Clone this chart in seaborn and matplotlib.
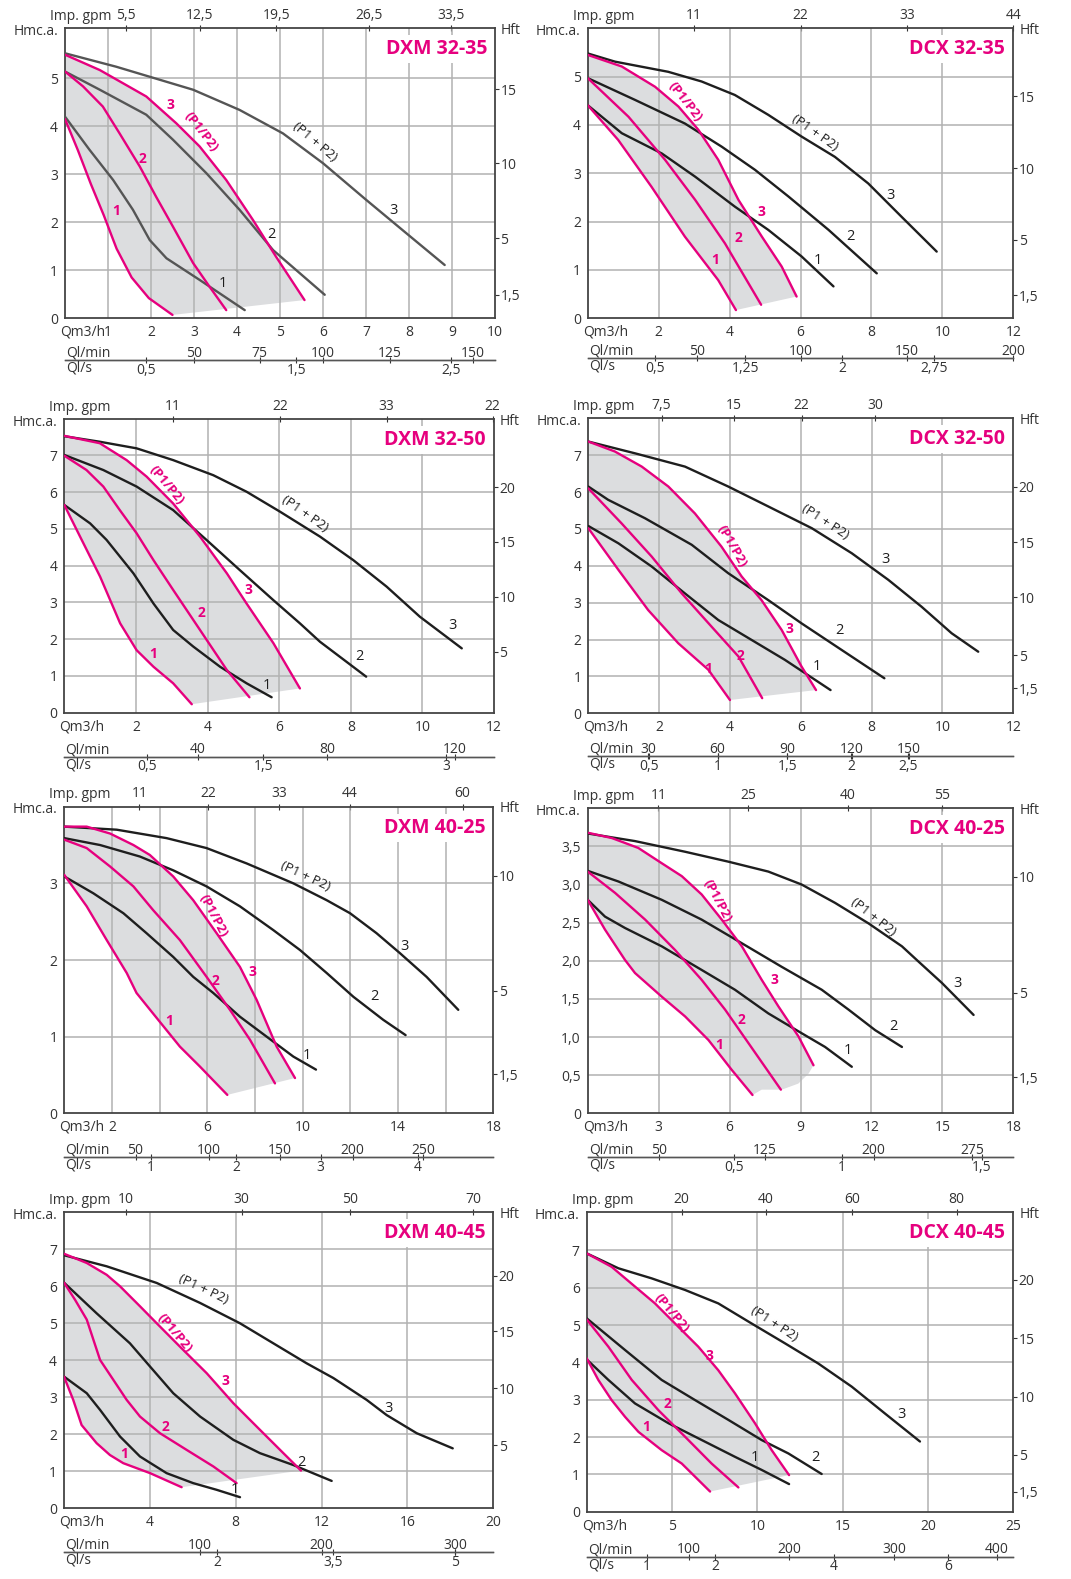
import matplotlib
matplotlib.use('Agg')
import matplotlib.pyplot as plt
import seaborn as sns

PINK = '#e6007e'
INK = '#1e1e1e'
TXT = '#333333'
GRID = '#b2b2b2'
SHADE = '#dcdddf'

# ---------- DXM 32-35 ----------
dxm3235_pink1 = [(0, 4.15), (0.3, 3.5), (0.6, 2.8), (0.9, 2.15), (1.2, 1.45), (1.55, 0.85), (1.95, 0.42), (2.5, 0.07)]
dxm3235_pink2 = [(0, 5.14), (0.42, 4.83), (0.88, 4.41), (1.27, 3.85), (1.74, 3.16), (2.12, 2.53), (2.51, 1.91), (2.98, 1.15), (3.36, 0.66), (3.75, 0.17)]
dxm3235_pink3 = [(0, 5.49), (0.81, 5.17), (1.89, 4.62), (2.59, 4.06), (3.13, 3.58), (3.75, 2.88), (4.37, 2.05), (4.91, 1.28), (5.57, 0.38)]
dxm3235_blk1 = [(0, 4.2), (0.57, 3.51), (1.12, 2.88), (1.58, 2.26), (1.97, 1.63), (2.36, 1.25), (3.13, 0.8), (4.18, 0.17)]
dxm3235_blk2 = [(0, 5.14), (0.81, 4.76), (1.89, 4.24), (2.51, 3.72), (3.29, 3.02), (4.06, 2.26), (4.84, 1.42), (6.04, 0.49)]
dxm3235_blk3 = [(0, 5.52), (1.19, 5.24), (2.98, 4.76), (4.06, 4.34), (5.07, 3.85), (6.0, 3.23), (7.0, 2.47), (7.94, 1.77), (8.83, 1.11)]
dxm3235_q = [1, 2, 3, 4, 5, 6, 7, 8, 9, 10]
dxm3235_h = [0, 1, 2, 3, 4, 5]
dxm3235_gpm = [(1.41, '5,5'), (3.13, '12,5'), (4.91, '19,5'), (7.08, '26,5'), (8.98, '33,5')]
dxm3235_lmin = [(2.99, '50'), (4.53, '75'), (6.0, '100'), (7.55, '125'), (9.49, '150')]
dxm3235_ls = [(1.89, '0,5'), (5.38, '1,5'), (8.98, '2,5')]
dxm3235_hft = [(0.49, '1,5'), (1.67, '5'), (3.23, '10'), (4.77, '15')]

# ---------- DCX 32-35 ----------
dcx3235_pink1 = [(0, 4.41), (0.86, 3.69), (1.8, 2.72), (2.74, 1.69), (3.68, 0.79), (4.18, 0.17)]
dcx3235_pink2 = [(0, 4.97), (1.15, 4.17), (2.18, 3.28), (3.03, 2.45), (3.87, 1.55), (4.89, 0.28)]
dcx3235_pink3 = [(0, 5.45), (0.96, 5.21), (1.9, 4.79), (2.56, 4.38), (3.12, 3.9), (3.68, 3.28), (4.25, 2.45), (4.91, 1.69), (5.47, 1.07), (5.89, 0.45)]
dcx3235_blk1 = [(0, 4.41), (0.96, 3.83), (2.09, 3.41), (3.03, 2.93), (4.15, 2.31), (5.09, 1.83), (6.03, 1.28), (6.93, 0.66)]
dcx3235_blk2 = [(0, 4.97), (1.33, 4.52), (2.74, 4.03), (3.78, 3.55), (4.72, 3.07), (5.66, 2.52), (6.79, 1.83), (8.15, 0.93)]
dcx3235_blk3 = [(0, 5.48), (0.77, 5.31), (2.27, 5.1), (3.21, 4.9), (4.15, 4.62), (5.09, 4.21), (6.03, 3.76), (6.97, 3.34), (7.91, 2.79), (8.85, 2.1), (9.84, 1.38)]
dcx3235_q = [2, 4, 6, 8, 10, 12]
dcx3235_h = [0, 1, 2, 3, 4, 5]
dcx3235_gpm = [(3.0, '11'), (6.0, '22'), (9.01, '33'), (12.0, '44')]
dcx3235_lmin = [(3.07, '50'), (6.0, '100'), (9.0, '150'), (12.0, '200')]
dcx3235_ls = [(1.9, '0,5'), (4.44, '1,25'), (7.18, '2'), (9.76, '2,75')]
dcx3235_hft = [(0.48, '1,5'), (1.63, '5'), (3.1, '10'), (4.59, '15')]

# ---------- DXM 32-50 ----------
dxm3250_pink1 = [(0, 5.65), (0.44, 4.79), (1.0, 3.7), (1.56, 2.43), (2.02, 1.7), (2.49, 1.25), (3.04, 0.8), (3.56, 0.23)]
dxm3250_pink2 = [(0, 6.99), (0.62, 6.6), (1.09, 6.15), (1.55, 5.51), (2.02, 4.88), (2.49, 4.15), (3.04, 3.34), (3.79, 2.25), (4.54, 1.16), (5.17, 0.42)]
dxm3250_pink3 = [(0, 7.53), (0.99, 7.33), (1.74, 6.87), (2.3, 6.42), (3.04, 5.69), (3.79, 4.79), (4.54, 3.79), (5.09, 2.97), (5.84, 1.89), (6.58, 0.66)]
dxm3250_blk1 = [(0, 5.65), (0.72, 5.15), (1.18, 4.7), (1.93, 3.79), (2.49, 2.97), (3.04, 2.25), (3.6, 1.8), (4.35, 1.25), (5.09, 0.8), (5.79, 0.42)]
dxm3250_blk2 = [(0, 7.01), (1.09, 6.6), (2.02, 6.15), (3.04, 5.51), (3.97, 4.7), (4.9, 3.88), (5.84, 3.06), (6.58, 2.43), (7.14, 1.93), (8.43, 0.98)]
dxm3250_blk3 = [(0, 7.52), (0.99, 7.37), (2.02, 7.19), (3.04, 6.87), (4.16, 6.46), (5.09, 6.01), (6.02, 5.47), (7.14, 4.79), (8.07, 4.15), (9.0, 3.43), (9.93, 2.61), (11.1, 1.75)]
dxm3250_q = [2, 4, 6, 8, 10, 12]
dxm3250_h = [0, 1, 2, 3, 4, 5, 6, 7]
dxm3250_gpm = [(3.04, '11'), (6.02, '22'), (9.0, '33'), (11.96, '22')]
dxm3250_lmin = [(3.72, '40'), (7.33, '80'), (10.91, '120')]
dxm3250_ls = [(2.3, '0,5'), (5.56, '1,5'), (10.66, '3')]
dxm3250_hft = [(1.66, '5'), (3.16, '10'), (4.65, '15'), (6.13, '20')]

# ---------- DCX 32-50 ----------
dcx3250_pink1 = [(0, 5.02), (0.85, 3.89), (1.69, 2.8), (2.54, 1.9), (3.39, 1.18), (4.0, 0.36)]
dcx3250_pink2 = [(0, 6.1), (0.94, 5.15), (1.79, 4.25), (2.64, 3.25), (3.48, 2.35), (4.24, 1.54), (4.91, 0.41)]
dcx3250_pink3 = [(0, 7.37), (0.75, 7.1), (1.51, 6.69), (2.26, 6.15), (3.01, 5.42), (3.76, 4.52), (4.33, 3.71), (4.89, 3.07), (5.46, 2.26), (6.02, 1.27), (6.43, 0.63)]
dcx3250_blk1 = [(0, 5.08), (0.85, 4.61), (1.79, 3.98), (2.73, 3.25), (3.67, 2.53), (4.61, 1.99), (5.55, 1.45), (6.84, 0.63)]
dcx3250_blk2 = [(0, 6.15), (0.56, 5.79), (1.6, 5.29), (2.92, 4.57), (3.95, 3.8), (5.08, 3.07), (6.02, 2.44), (7.15, 1.72), (8.36, 0.95)]
dcx3250_blk3 = [(0, 7.37), (1.32, 7.05), (2.73, 6.69), (3.95, 6.15), (5.08, 5.61), (6.31, 5.02), (7.44, 4.34), (8.47, 3.62), (9.41, 2.89), (10.26, 2.17), (11.01, 1.67)]
dcx3250_q = [2, 4, 6, 8, 10, 12]
dcx3250_h = [0, 1, 2, 3, 4, 5, 6, 7]
dcx3250_gpm = [(2.07, '7,5'), (4.12, '15'), (6.02, '22'), (8.09, '30')]
dcx3250_lmin = [(1.69, '30'), (3.65, '60'), (5.62, '90'), (7.44, '120'), (9.05, '150')]
dcx3250_ls = [(1.72, '0,5'), (3.65, '1'), (5.62, '1,5'), (7.42, '2'), (9.04, '2,5')]
dcx3250_hft = [(0.68, '1,5'), (1.58, '5'), (3.15, '10'), (4.64, '15'), (6.15, '20')]

# ---------- DXM 40-25 ----------
dxm4025_pink1 = [(0, 3.11), (0.94, 2.7), (1.78, 2.26), (2.62, 1.83), (3.03, 1.57), (3.73, 1.3), (4.85, 0.87), (5.69, 0.61), (6.84, 0.24)]
dxm4025_pink2 = [(0, 3.57), (0.94, 3.46), (1.92, 3.22), (2.9, 2.96), (3.73, 2.65), (4.85, 2.26), (5.97, 1.78), (6.95, 1.35), (7.79, 0.96), (8.84, 0.39)]
dxm4025_pink3 = [(0, 3.74), (0.94, 3.74), (1.92, 3.65), (2.9, 3.5), (3.59, 3.37), (4.57, 3.09), (5.41, 2.78), (6.39, 2.35), (7.37, 1.91), (8.07, 1.48), (8.91, 0.87), (9.68, 0.46)]
dxm4025_blk1 = [(0, 3.09), (1.22, 2.87), (2.48, 2.61), (3.45, 2.35), (4.57, 2.04), (5.41, 1.78), (6.25, 1.57), (7.37, 1.26), (8.49, 1.0), (9.61, 0.74), (10.56, 0.57)]
dxm4025_blk2 = [(0, 3.59), (1.5, 3.5), (3.17, 3.35), (4.57, 3.17), (5.97, 2.96), (7.37, 2.7), (8.77, 2.39), (9.89, 2.13), (11.01, 1.83), (12.13, 1.52), (13.38, 1.22), (14.32, 1.02)]
dxm4025_blk3 = [(0, 3.74), (2.2, 3.7), (4.29, 3.59), (5.97, 3.46), (7.65, 3.26), (9.61, 3.0), (11.01, 2.78), (11.99, 2.61), (13.1, 2.35), (14.08, 2.09), (15.2, 1.78), (16.53, 1.35)]
dxm4025_q = [2, 6, 10, 14, 18]
dxm4025_h = [0, 1, 2, 3]
dxm4025_gpm = [(3.15, '11'), (6.04, '22'), (9.0, '33'), (11.99, '44'), (16.71, '60')]
dxm4025_lmin = [(2.99, '50'), (6.07, '100'), (9.05, '150'), (12.1, '200'), (15.06, '250')]
dxm4025_ls = [(3.62, '1'), (7.2, '2'), (10.76, '3'), (14.83, '4')]
dxm4025_hft = [(0.51, '1,5'), (1.6, '5'), (3.1, '10')]

# ---------- DCX 40-25 ----------
dcx4025_pink1 = [(0, 2.8), (0.73, 2.41), (1.58, 2.01), (2.0, 1.84), (3.13, 1.53), (4.12, 1.27), (5.11, 0.96), (6.09, 0.57), (6.97, 0.24)]
dcx4025_pink2 = [(0, 3.17), (1.16, 2.89), (2.43, 2.54), (3.7, 2.14), (4.82, 1.75), (5.81, 1.36), (6.8, 0.92), (8.17, 0.31)]
dcx4025_pink3 = [(0, 3.68), (1.02, 3.61), (2.14, 3.48), (3.13, 3.28), (3.98, 3.11), (4.82, 2.87), (5.67, 2.54), (6.52, 2.19), (7.36, 1.75), (8.07, 1.4), (8.91, 1.01), (9.55, 0.63)]
dcx4025_blk1 = [(0, 2.8), (0.73, 2.58), (1.58, 2.43), (3.13, 2.19), (4.82, 1.88), (6.23, 1.62), (7.64, 1.31), (9.05, 1.05), (10.04, 0.87), (11.17, 0.61)]
dcx4025_blk2 = [(0, 3.18), (1.3, 3.04), (3.13, 2.8), (4.82, 2.54), (6.52, 2.23), (8.21, 1.92), (9.9, 1.62), (11.03, 1.36), (12.16, 1.09), (13.29, 0.87)]
dcx4025_blk3 = [(0, 3.67), (2.0, 3.57), (4.12, 3.43), (5.95, 3.3), (7.64, 3.17), (9.05, 3.0), (10.46, 2.76), (11.88, 2.49), (13.29, 2.19), (13.99, 1.99), (14.98, 1.71), (16.32, 1.29)]
dcx4025_edge = [(9.34, 0.52), (8.91, 0.39), (8.21, 0.31), (7.36, 0.31)]
dcx4025_q = [3, 6, 9, 12, 15, 18]
dcx4025_h = [0, 0.5, 1.0, 1.5, 2.0, 2.5, 3.0, 3.5]
dcx4025_gpm = [(2.99, '11'), (6.8, '25'), (10.99, '40'), (15.0, '55')]
dcx4025_lmin = [(3.02, '50'), (7.5, '125'), (12.09, '200'), (16.25, '275')]
dcx4025_ls = [(6.19, '0,5'), (10.75, '1'), (16.67, '1,5')]
dcx4025_hft = [(0.47, '1,5'), (1.58, '5'), (3.1, '10')]

# ---------- DXM 40-45 ----------
dxm4045_pink1 = [(0, 3.56), (0.43, 2.93), (0.82, 2.25), (1.52, 1.76), (2.14, 1.44), (2.76, 1.22), (4.01, 0.95), (5.48, 0.57)]
dxm4045_pink2 = [(0, 6.1), (0.51, 5.64), (1.06, 5.1), (1.68, 4.01), (2.3, 3.47), (2.92, 2.93), (3.54, 2.48), (4.47, 2.03), (5.71, 1.58), (6.96, 1.13), (8.04, 0.68)]
dxm4045_pink3 = [(0, 6.88), (1.06, 6.63), (1.99, 6.31), (2.61, 6.0), (3.54, 5.46), (4.32, 5.0), (5.4, 4.37), (6.65, 3.65), (7.89, 2.84), (9.13, 2.12), (10.22, 1.49), (11.04, 1.02)]
dxm4045_blk1 = [(0, 3.56), (1.06, 3.11), (1.68, 2.66), (2.61, 1.94), (3.54, 1.4), (4.78, 0.95), (6.02, 0.68), (7.11, 0.5), (8.2, 0.3)]
dxm4045_blk2 = [(0, 6.1), (1.52, 5.27), (3.07, 4.46), (4.01, 3.83), (5.09, 3.11), (6.34, 2.48), (7.89, 1.85), (9.13, 1.49), (10.68, 1.17), (12.47, 0.74)]
dxm4045_blk3 = [(0, 6.84), (1.99, 6.54), (4.32, 6.09), (6.34, 5.55), (8.2, 5.0), (9.75, 4.46), (11.3, 3.92), (12.55, 3.52), (14.1, 2.93), (15.03, 2.52), (16.43, 2.03), (18.11, 1.62)]
dxm4045_q = [4, 8, 12, 16, 20]
dxm4045_h = [0, 1, 2, 3, 4, 5, 6, 7]
dxm4045_gpm = [(2.89, '10'), (8.28, '30'), (13.32, '50'), (19.07, '70')]
dxm4045_lmin = [(6.34, '100'), (12.0, '200'), (18.21, '300')]
dxm4045_ls = [(7.14, '2'), (12.52, '3,5'), (18.21, '5')]
dxm4045_hft = [(1.71, '5'), (3.25, '10'), (4.78, '15'), (6.29, '20')]

# ---------- DCX 40-45 ----------
dcx4045_pink1 = [(0, 4.11), (0.68, 3.53), (1.46, 2.99), (2.25, 2.54), (3.03, 2.14), (4.39, 1.65), (5.57, 1.29), (7.23, 0.54)]
dcx4045_pink2 = [(0, 5.15), (1.27, 4.42), (2.64, 3.53), (4.2, 2.72), (5.76, 2.01), (7.32, 1.29), (8.89, 0.65)]
dcx4045_pink3 = [(0, 6.92), (1.46, 6.56), (2.83, 6.03), (4.0, 5.58), (5.18, 5.04), (6.54, 4.42), (7.71, 3.79), (8.69, 3.17), (9.86, 2.37), (10.84, 1.65), (11.86, 0.98)]
dcx4045_blk1 = [(0, 4.08), (1.27, 3.53), (2.83, 2.9), (4.79, 2.37), (6.74, 1.92), (8.69, 1.47), (10.25, 1.12), (11.86, 0.74)]
dcx4045_blk2 = [(0, 5.18), (2.25, 4.33), (4.39, 3.53), (6.35, 2.99), (8.3, 2.46), (10.25, 1.92), (11.82, 1.56), (13.77, 1.01)]
dcx4045_blk3 = [(0, 6.92), (1.86, 6.52), (3.81, 6.25), (5.76, 5.94), (7.71, 5.58), (9.67, 5.04), (11.62, 4.51), (13.57, 3.97), (15.53, 3.35), (17.48, 2.63), (19.53, 1.88)]
dcx4045_q = [5, 10, 15, 20, 25]
dcx4045_h = [0, 1, 2, 3, 4, 5, 6, 7]
dcx4045_gpm = [(5.57, '20'), (10.51, '40'), (15.53, '60'), (21.68, '80')]
dcx4045_lmin = [(6.0, '100'), (11.86, '200'), (18.03, '300'), (24.02, '400')]
dcx4045_ls = [(3.52, '1'), (7.52, '2'), (14.49, '4'), (21.19, '6')]
dcx4045_hft = [(0.54, '1,5'), (1.52, '5'), (3.08, '10'), (4.64, '15'), (6.21, '20')]


def hlabel(v):
    return str(v).replace('.', ',') if isinstance(v, float) else str(v)


panels = [
    dict(name='DXM 32-35', frame=(65, 28.3, 495, 318.3), xmax=10, ymax=6.04,
         pink=[dxm3235_pink1, dxm3235_pink2, dxm3235_pink3],
         blk=[dxm3235_blk1, dxm3235_blk2, dxm3235_blk3], blk_col='#555555',
         q=dxm3235_q, h=dxm3235_h, xgrid=range(1, 10), ygrid=range(1, 6),
         gpm=dxm3235_gpm, lmin=dxm3235_lmin, ls=dxm3235_ls, hft=dxm3235_hft, line=42,
         tags=[('3', 2.45, 4.44, 'p', 0), ('(P1/P2)', 3.17, 3.89, 'p', -52), ('2', 1.80, 3.31, 'p', 0),
               ('1', 1.18, 2.24, 'p', 0), ('(P1 + P2)', 5.81, 3.68, 'k', -40), ('3', 7.64, 2.24, 'k', 0),
               ('2', 4.8, 1.74, 'k', 0), ('1', 3.66, 0.73, 'k', 0)]),
    dict(name='DCX 32-35', frame=(587.7, 28.3, 1013.3, 318.3), xmax=12, ymax=6.0,
         pink=[dcx3235_pink1, dcx3235_pink2, dcx3235_pink3],
         blk=[dcx3235_blk1, dcx3235_blk2, dcx3235_blk3], blk_col=INK,
         q=dcx3235_q, h=dcx3235_h, xgrid=range(2, 12, 2), ygrid=range(1, 6),
         gpm=dcx3235_gpm, lmin=dcx3235_lmin, ls=dcx3235_ls, hft=dcx3235_hft, line=40,
         tags=[('(P1/P2)', 2.74, 4.48, 'p', -52), ('3', 4.91, 2.19, 'p', 0), ('2', 4.25, 1.66, 'p', 0),
               ('1', 3.59, 1.21, 'p', 0), ('(P1 + P2)', 6.41, 3.83, 'k', -35), ('3', 8.55, 2.55, 'k', 0),
               ('2', 7.42, 1.69, 'k', 0), ('1', 6.48, 1.19, 'k', 0)]),
    dict(name='DXM 32-50', frame=(64.3, 419.3, 494, 712.7), xmax=12, ymax=7.98,
         pink=[dxm3250_pink1, dxm3250_pink2, dxm3250_pink3],
         blk=[dxm3250_blk1, dxm3250_blk2, dxm3250_blk3], blk_col=INK,
         q=dxm3250_q, h=dxm3250_h, xgrid=range(2, 12, 2), ygrid=range(1, 8),
         gpm=dxm3250_gpm, lmin=dxm3250_lmin, ls=dxm3250_ls, hft=dxm3250_hft, line=44,
         tags=[('(P1/P2)', 2.86, 6.19, 'p', -50), ('3', 5.14, 3.34, 'p', 0), ('2', 3.84, 2.72, 'p', 0),
               ('1', 2.49, 1.61, 'p', 0), ('(P1 + P2)', 6.72, 5.42, 'k', -35), ('3', 10.84, 2.38, 'k', 0),
               ('2', 8.24, 1.52, 'k', 0), ('1', 5.65, 0.75, 'k', 0)]),
    dict(name='DCX 32-50', frame=(588.3, 418.3, 1013.3, 713.3), xmax=12, ymax=8.0,
         pink=[dcx3250_pink1, dcx3250_pink2, dcx3250_pink3],
         blk=[dcx3250_blk1, dcx3250_blk2, dcx3250_blk3], blk_col=INK,
         q=dcx3250_q, h=dcx3250_h, xgrid=range(2, 12, 2), ygrid=range(1, 8),
         gpm=dcx3250_gpm, lmin=dcx3250_lmin, ls=dcx3250_ls, hft=dcx3250_hft, line=43,
         tags=[('(P1/P2)', 4.05, 4.52, 'p', -60), ('3', 5.67, 2.28, 'p', 0), ('2', 4.31, 1.56, 'p', 0),
               ('1', 3.39, 1.19, 'p', 0), ('(P1 + P2)', 6.68, 5.2, 'k', -33), ('3', 8.4, 4.18, 'k', 0),
               ('2', 7.08, 2.24, 'k', 0), ('1', 6.45, 1.28, 'k', 0)]),
    dict(name='DXM 40-25', frame=(64.3, 806.7, 493.3, 1113.3), xmax=18, ymax=4.0,
         pink=[dxm4025_pink1, dxm4025_pink2, dxm4025_pink3],
         blk=[dxm4025_blk1, dxm4025_blk2, dxm4025_blk3], blk_col=INK,
         q=dxm4025_q, h=dxm4025_h, xgrid=range(2, 18, 2), ygrid=range(1, 4),
         gpm=dxm4025_gpm, lmin=dxm4025_lmin, ls=dxm4025_ls, hft=dxm4025_hft, line=44,
         tags=[('(P1/P2)', 6.25, 2.57, 'p', -62), ('3', 7.89, 1.84, 'p', 0), ('2', 6.36, 1.73, 'p', 0),
               ('1', 4.41, 1.21, 'p', 0), ('(P1 + P2)', 10.1, 3.09, 'k', -25), ('3', 14.29, 2.17, 'k', 0),
               ('2', 13.03, 1.52, 'k', 0), ('1', 10.17, 0.76, 'k', 0)]),
    dict(name='DCX 40-25', frame=(587.7, 808.3, 1013.3, 1113.3), xmax=18, ymax=4.0,
         pink=[dcx4025_pink1, dcx4025_pink2, dcx4025_pink3], edge=dcx4025_edge,
         blk=[dcx4025_blk1, dcx4025_blk2, dcx4025_blk3], blk_col=INK,
         q=dcx4025_q, h=dcx4025_h, xgrid=range(3, 18, 3), ygrid=[0.5, 1, 1.5, 2, 2.5, 3, 3.5],
         gpm=dcx4025_gpm, lmin=dcx4025_lmin, ls=dcx4025_ls, hft=dcx4025_hft, line=44,
         tags=[('(P1/P2)', 5.46, 2.78, 'p', -62), ('3', 7.9, 1.75, 'p', 0), ('2', 6.52, 1.22, 'p', 0),
               ('1', 5.57, 0.9, 'p', 0), ('(P1 + P2)', 12.09, 2.58, 'k', -38), ('3', 15.66, 1.7, 'k', 0),
               ('2', 12.91, 1.14, 'k', 0), ('1', 11.0, 0.82, 'k', 0)]),
    dict(name='DXM 40-45', frame=(64, 1212.3, 493.3, 1508.3), xmax=20, ymax=8.0,
         pink=[dxm4045_pink1, dxm4045_pink2, dxm4045_pink3],
         blk=[dxm4045_blk1, dxm4045_blk2, dxm4045_blk3], blk_col=INK,
         q=dxm4045_q, h=dxm4045_h, xgrid=range(4, 20, 4), ygrid=range(1, 8),
         gpm=dxm4045_gpm, lmin=dxm4045_lmin, ls=dxm4045_ls, hft=dxm4045_hft, line=44,
         tags=[('(P1/P2)', 5.17, 4.73, 'p', -50), ('3', 7.5, 3.45, 'p', 0), ('2', 4.75, 2.21, 'p', 0),
               ('1', 2.8, 1.46, 'p', 0), ('(P1 + P2)', 6.49, 5.91, 'k', -25), ('3', 15.11, 2.7, 'k', 0),
               ('2', 11.07, 1.24, 'k', 0), ('1', 7.97, 0.52, 'k', 0)]),
    dict(name='DCX 40-45', frame=(586.7, 1212.3, 1013.3, 1511.7), xmax=25, ymax=8.02,
         pink=[dcx4045_pink1, dcx4045_pink2, dcx4045_pink3],
         blk=[dcx4045_blk1, dcx4045_blk2, dcx4045_blk3], blk_col=INK,
         q=dcx4045_q, h=dcx4045_h, xgrid=range(5, 25, 5), ygrid=range(1, 8),
         gpm=dcx4045_gpm, lmin=dcx4045_lmin, ls=dcx4045_ls, hft=dcx4045_hft, line=45,
         tags=[('(P1/P2)', 4.98, 5.31, 'p', -50), ('3', 7.17, 4.17, 'p', 0), ('2', 4.73, 2.88, 'p', 0),
               ('1', 3.46, 2.28, 'p', 0), ('(P1 + P2)', 11.0, 5.03, 'k', -33), ('3', 18.46, 2.61, 'k', 0),
               ('2', 13.38, 1.46, 'k', 0), ('1', 9.86, 1.46, 'k', 0)]),
]

sns.set_theme(style='white')
plt.rcParams['font.family'] = ['Open Sans', 'DejaVu Sans']
plt.rcParams['xtick.labelsize'] = 10
plt.rcParams['ytick.labelsize'] = 10
plt.rcParams['xtick.color'] = TXT
plt.rcParams['ytick.color'] = TXT

W, H = 1071, 1579
fig = plt.figure(figsize=(W / 100, H / 100), dpi=100)
PT = 0.72  # points per pixel at 100 dpi


def note(ax, s, xy, dx, dy, ha, va, **kw):
    ax.annotate(s, xy=xy, xycoords='axes fraction', xytext=(dx * PT, dy * PT),
                textcoords='offset points', ha=ha, va=va, annotation_clip=False, **kw)


def small_axis(sec, ticks, side):
    sec.set_xticks([v for v, _ in ticks], labels=[s for _, s in ticks])
    if side == 'top':
        sec.tick_params(axis='x', top=True, labeltop=True, bottom=False, labelbottom=False,
                        pad=-2.5)
    else:
        sec.tick_params(axis='x', pad=0)
    sec.tick_params(axis='x', length=4, width=0.8, direction='inout', colors=TXT)
    for sp in sec.spines.values():
        sp.set_color('#555555')
        sp.set_linewidth(1.0)


for p in panels:
    l, t, r, b = p['frame']
    hpx = b - t
    ax = fig.add_axes([l / W, 1 - b / H, (r - l) / W, hpx / H])
    ax.set_xlim(0, p['xmax'])
    ax.set_ylim(0, p['ymax'])
    ax.set_axisbelow(True)

    # shaded operating range between curve 1 and curve 3 of P1/P2
    lo, hi = p['pink'][0], p['pink'][2]
    poly = hi + p.get('edge', []) + lo[::-1]
    ax.fill([q for q, _ in poly], [h for _, h in poly], color=SHADE, lw=0, zorder=0.2)

    for c in p['blk']:
        sns.lineplot(x=[q for q, _ in c], y=[h for _, h in c], ax=ax, color=p['blk_col'],
                     lw=1.7, sort=False, estimator=None, zorder=3)
    for c in p['pink']:
        sns.lineplot(x=[q for q, _ in c], y=[h for _, h in c], ax=ax, color=PINK,
                     lw=1.7, sort=False, estimator=None, zorder=4)

    for s, x, y, kind, rot in p['tags']:
        if kind == 'p':
            ax.text(x, y, s, color=PINK, fontsize=9.5 if rot else 10, fontweight='bold',
                    rotation=rot, ha='center', va='center', zorder=5)
        else:
            ax.text(x, y, s, color=INK, fontsize=9.5 if rot else 10.5,
                    rotation=rot, ha='center', va='center', zorder=5)

    # grid + main ticks
    ax.set_xticks(p['q'], labels=[str(v) for v in p['q']])
    ax.set_yticks(p['h'], labels=[hlabel(v) for v in p['h']])
    ax.set_xticks(list(p['xgrid']), minor=True)
    ax.set_yticks(list(p['ygrid']), minor=True)
    ax.xaxis.remove_overlapping_locs = False
    ax.yaxis.remove_overlapping_locs = False
    ax.grid(False)
    ax.grid(True, which='minor', color=GRID, lw=1.1)
    ax.tick_params(which='both', length=0)
    ax.tick_params(axis='x', pad=5)
    ax.tick_params(axis='y', pad=5)
    ax.set_xlabel('')
    ax.set_ylabel('')
    for sp in ax.spines.values():
        sp.set_color('#444444')
        sp.set_linewidth(1.3)

    # Imp. gpm on top
    top = ax.secondary_xaxis('top')
    top.set_xticks([v for v, _ in p['gpm']], labels=[s for _, s in p['gpm']])
    top.tick_params(axis='x', length=4, width=0.8, direction='inout', pad=2, colors=TXT)
    top.spines['top'].set_visible(False)

    # Hft on the right
    rt = ax.secondary_yaxis('right')
    rt.set_yticks([v for v, _ in p['hft']], labels=[s for _, s in p['hft']])
    rt.tick_params(axis='y', length=3, width=0.8, direction='out', pad=1, colors=TXT)
    rt.spines['right'].set_visible(False)

    # Ql/min (above) and Ql/s (below) on a rule under the plot
    loc = -p['line'] / hpx
    small_axis(ax.secondary_xaxis(loc), p['lmin'], 'top')
    small_axis(ax.secondary_xaxis(loc), p['ls'], 'bottom')

    # axis captions
    note(ax, 'Hmc.a.', (0, 1), -7, -3, 'right', 'center', fontsize=10, color=TXT)
    note(ax, 'Imp. gpm', (0, 1), -15, 12, 'left', 'center', fontsize=10, color=TXT)
    note(ax, 'Hft', (1, 1), 6, -2, 'left', 'center', fontsize=10, color=TXT)
    note(ax, 'Qm3/h', (0, 0), -5, -14, 'left', 'center', fontsize=10, color=TXT)
    note(ax, 'Ql/min', (0, 0), 1, -(p['line'] - 7), 'left', 'center', fontsize=10, color=TXT)
    note(ax, 'Ql/s', (0, 0), 1, -(p['line'] + 8), 'left', 'center', fontsize=10, color=TXT)

    note(ax, p['name'], (1, 1), -8, -21, 'right', 'center', fontsize=14, fontweight='bold',
         color=PINK, zorder=2, bbox=dict(fc='white', ec='none', pad=3))

fig.savefig('out.png', dpi=100)
